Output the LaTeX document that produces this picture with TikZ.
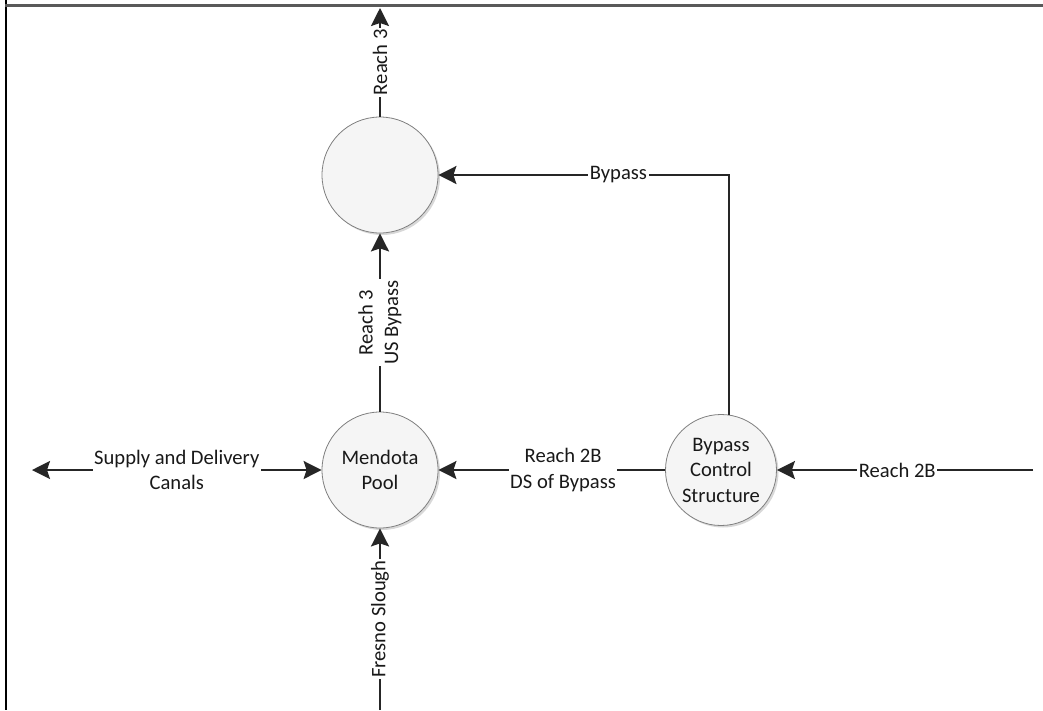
\documentclass[tikz,border=0pt]{standalone}
\usepackage{fontspec}
\setmainfont{Carlito}
\usetikzlibrary{arrows.meta,shadows}
\begin{document}
\begin{tikzpicture}[x=1pt,y=-1pt,
  txt/.style={font=\fontsize{20.6}{25.5}\selectfont, text=black!90},
  proc/.style={circle, draw=black!50, line width=0.8pt, fill=black!4, inner sep=0pt,
    align=center, txt, drop shadow={shadow xshift=2pt, shadow yshift=-2pt, opacity=0.25, fill=black!60}},
  flow/.style={draw=black!85, line width=2pt, -{Stealth[length=18pt,width=18pt,inset=3pt]}},
  flowb/.style={draw=black!85, line width=2pt, {Stealth[length=18pt,width=18pt,inset=3pt]}-{Stealth[length=18pt,width=18pt,inset=3pt]}},
  lbl/.style={fill=white, inner sep=1.5pt, align=center, txt}]
\useasboundingbox (0,0) rectangle (1043,710);
\fill[white] (0,0) rectangle (1043,710);
% frame
\coordinate (fl0) at (6,0);
\coordinate (fl1) at (6,710);
\coordinate (ft0) at (5,5);
\coordinate (ft1) at (1043,5);
\draw[black, line width=2pt] (fl0) -- (fl1);
\draw[black!65, line width=3pt] (ft0) -- (ft1);
% nodes
\node[proc, minimum size=116pt] (top) at (380,175) {};
\node[proc, minimum size=116pt] (mp) at (380,470) {Mendota\\Pool};
\node[proc, minimum size=111pt] (bcs) at (721,470) {Bypass\\Control\\Structure};
% free ends
\coordinate (r3end) at (380,8);
\coordinate (sdc) at (32,470);
\coordinate (r2bend) at (1033,470);
\coordinate (fsend) at (380,710);
% connectors
\draw[flow] (top) -- node[lbl, rotate=90] {Reach 3} (r3end);
\draw[flow] (mp) -- node[lbl, rotate=90] {Reach 3\\US Bypass} (top);
\draw[flow] (fsend) -- node[lbl, rotate=90] {Fresno Slough} (mp);
\draw[flowb] (sdc) -- node[lbl] {Supply and Delivery\\Canals} (mp);
\draw[flow] (bcs) -- node[lbl, pos=0.45] {Reach 2B\\DS of Bypass} (mp);
\draw[flow] (r2bend) -- node[lbl, pos=0.53] {Reach 2B} (bcs);
\draw[flow] (bcs.82) |- node[lbl, pos=0.69] {Bypass} (top.east);
\end{tikzpicture}
\end{document}
